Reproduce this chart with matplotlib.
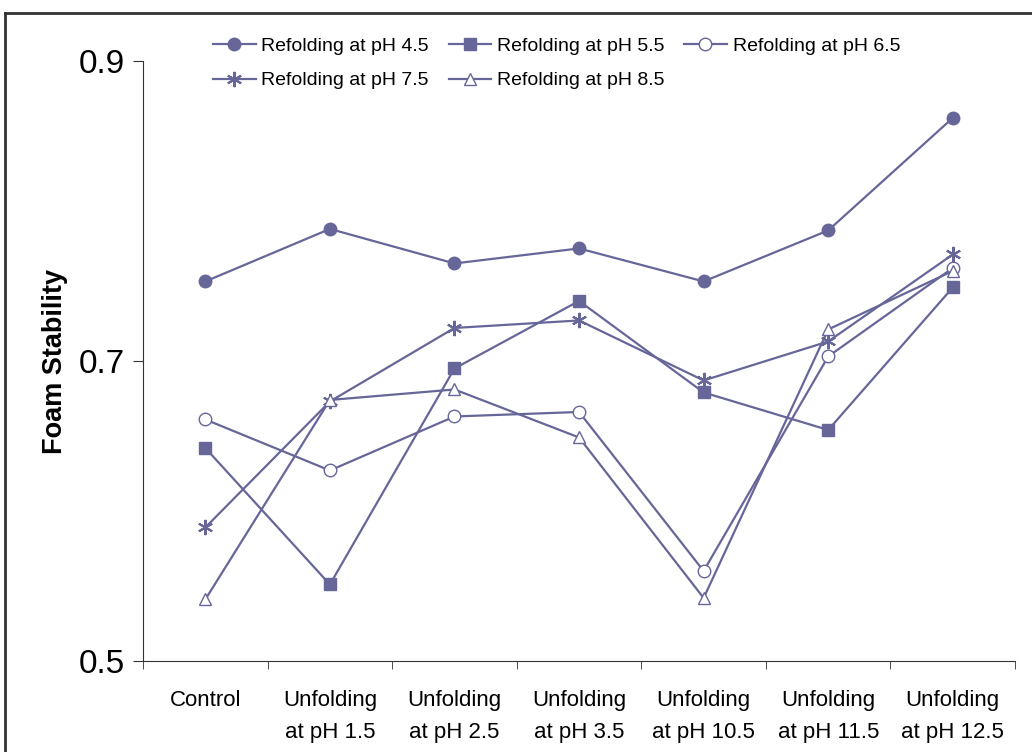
import matplotlib
matplotlib.use('Agg')
import matplotlib.pyplot as plt
from matplotlib.lines import Line2D

plt.rcParams['font.family'] = ['Liberation Sans', 'DejaVu Sans']

# ---- data ----
categories = ['Control', 'Unfolding\nat pH 1.5', 'Unfolding\nat pH 2.5', 'Unfolding\nat pH 3.5',
              'Unfolding\nat pH 10.5', 'Unfolding\nat pH 11.5', 'Unfolding\nat pH 12.5']

ph45 = [0.753, 0.788, 0.765, 0.775, 0.753, 0.787, 0.862]
ph55 = [0.642, 0.551, 0.695, 0.740, 0.679, 0.654, 0.749]
ph65 = [0.661, 0.627, 0.663, 0.666, 0.560, 0.703, 0.762]
ph75 = [0.589, 0.673, 0.722, 0.727, 0.687, 0.713, 0.771]
ph85 = [0.541, 0.674, 0.681, 0.649, 0.542, 0.721, 0.760]

series_labels = ['Refolding at pH 4.5', 'Refolding at pH 5.5', 'Refolding at pH 6.5',
                 'Refolding at pH 7.5', 'Refolding at pH 8.5']
yticks = [0.5, 0.7, 0.9]

color = '#666699'

fig = plt.figure(figsize=(10.32, 7.52), dpi=100)
ax = fig.add_axes([0.1386, 0.121, 0.845, 0.798])

x = list(range(len(categories)))
styles = [
    dict(marker='o', mfc=color, ms=9),
    dict(marker='s', mfc=color, ms=9),
    dict(marker='o', mfc='white', ms=9),
    dict(marker=(6, 2, 0), mfc=color, ms=11, mew=1.5),
    dict(marker='^', mfc='white', ms=9),
]
handles = []
for vals, lab, st in zip([ph45, ph55, ph65, ph75, ph85], series_labels, styles):
    h, = ax.plot(x, vals, color=color, lw=1.6, mec=color, label=lab, **st)
    handles.append(h)

ax.set_xlim(-0.5, len(categories) - 0.5)
ax.set_ylim(0.5, 0.9)
ax.set_yticks(yticks)
ax.set_yticklabels([str(v) for v in yticks], fontsize=24)
ax.set_xticks(x)
ax.set_xticklabels(categories, fontsize=16, linespacing=1.7)
ax.set_xticks([i - 0.5 for i in range(len(categories) + 1)], minor=True)
ax.tick_params(axis='x', which='major', length=0, pad=21)
ax.tick_params(axis='x', which='minor', length=6, direction='out', color='#333333')
ax.tick_params(axis='y', length=7, direction='out', color='#333333', pad=6)
ax.set_ylabel('Foam Stability', fontsize=19.5, fontweight='bold')
ax.yaxis.set_label_coords(-0.086, 0.5)

for s in ['top', 'right']:
    ax.spines[s].set_visible(False)
for s in ['left', 'bottom']:
    ax.spines[s].set_color('#333333')

order = [0, 3, 1, 4, 2]
leg = ax.legend([handles[i] for i in order], [series_labels[i] for i in order],
                ncol=3, loc='upper left', bbox_to_anchor=(0.06, 1.068), frameon=False,
                fontsize=14, handlelength=2.2, columnspacing=1.0, handletextpad=0.3,
                labelspacing=0.85)

# outer frame (top and left edges visible in the reference)
fig.add_artist(Line2D([5 / 1032, 1.0], [1 - 13 / 752, 1 - 13 / 752], transform=fig.transFigure,
                      color='#333333', lw=2))
fig.add_artist(Line2D([5 / 1032, 5 / 1032], [0.0, 1 - 13 / 752], transform=fig.transFigure,
                      color='#333333', lw=2))

fig.savefig('out.png', dpi=100)
